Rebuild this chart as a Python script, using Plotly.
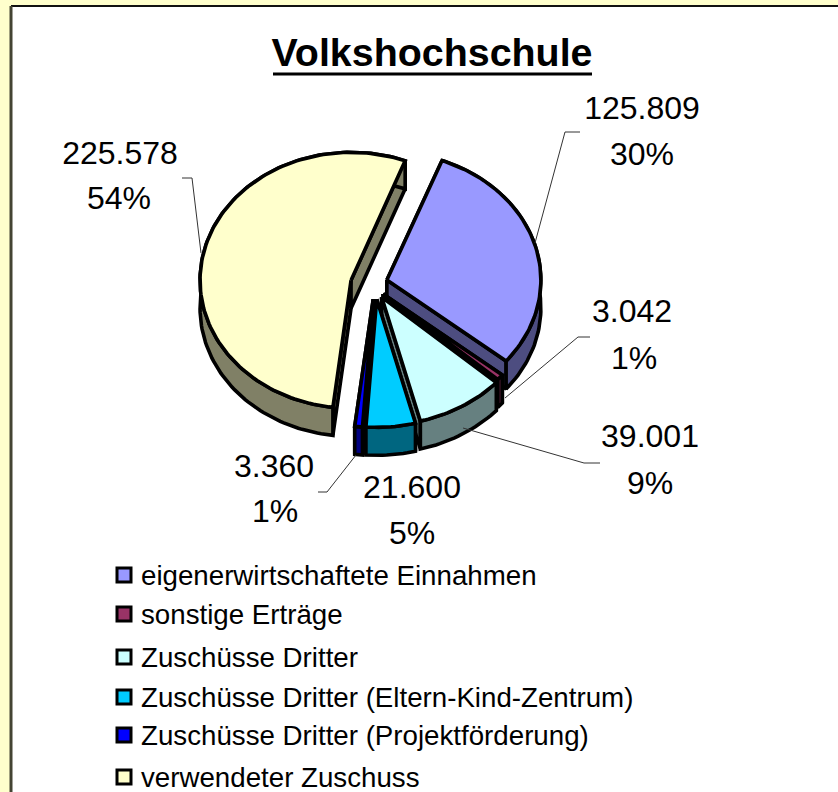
import math
import plotly.graph_objects as go

# ---- data ----
categories = ["eigenerwirtschaftete Einnahmen", "sonstige Erträge", "Zuschüsse Dritter",
              "Zuschüsse Dritter (Eltern-Kind-Zentrum)", "Zuschüsse Dritter (Projektförderung)",
              "verwendeter Zuschuss"]
values = [125809, 3042, 39001, 21600, 3360, 225578]
title_text = "Volkshochschule"

top_colors = ["#9999FF", "#993366", "#CCFFFF", "#00CCFF", "#0000FF", "#FFFFCC"]
side_colors = ["#4D4D80", "#4D1A33", "#668080", "#006680", "#000080", "#808066"]

# ---- layout constants (pixel space of the 838x792 page) ----
CX, CY = 369, 284
RX = [154, 154, 154, 154, 154, 151]
RY = 128
DEPTH = 28
EXPLODE_PX = (18.5, 15.4)
X_NUDGE = [0, 0, 3, 6, 6, 0]
START_DEG = 21
EDGE = 3.6

label_pos = [((642, 111), (642, 157)), ((632, 314), (634, 361)), ((650, 439), (650, 486)),
             ((412, 490), (412, 536)), ((274, 469), (275, 514)), ((120, 156), (119, 201))]
leaders = [[(580, 132), (565, 132), (535, 243)],
           [(590, 337), (578, 337), (505, 398)],
           [(600, 463), (584, 463), (463, 428)],
           [(318, 492), (327, 492), (356, 455)],
           [(182, 178), (192, 178), (201, 253)]]
legend_y = [575, 614, 657, 697, 735, 777]

total = sum(values)
fig = go.Figure()


def poly(xs, ys, fill, name):
    fig.add_trace(go.Scatter(x=xs, y=ys, mode="lines", fill="toself", fillcolor=fill,
                             line=dict(color="black", width=EDGE), name=name,
                             showlegend=False, hoverinfo="name"))


# angular extents computed from the values
spans = []
a = START_DEG
for v in values:
    b = a + v / total * 360
    spans.append((a, b))
    a = b

draw_order = [5, 0, 1, 2, 4, 3]
for i in draw_order:
    a, b = spans[i]
    mid = math.radians((a + b) / 2)
    ax = CX + EXPLODE_PX[0] * math.sin(mid) + X_NUDGE[i]
    ay = CY - EXPLODE_PX[1] * math.cos(mid)
    n = max(4, int((b - a) / 1.5))
    th = [math.radians(a + (b - a) * k / n) for k in range(n + 1)]
    ex = [ax + RX[i] * math.sin(t) for t in th]
    ey = [ay - RY * math.cos(t) for t in th]
    name = categories[i]
    # radial side faces, then the rim, then the top face
    poly([ax, ex[0], ex[0], ax, ax], [ay, ey[0], ey[0] + DEPTH, ay + DEPTH, ay], side_colors[i], name)
    poly([ax, ex[-1], ex[-1], ax, ax], [ay, ey[-1], ey[-1] + DEPTH, ay + DEPTH, ay], side_colors[i], name)
    poly(ex + ex[::-1] + [ex[0]], ey + [y + DEPTH for y in ey[::-1]] + [ey[0]], side_colors[i], name)
    poly([ax] + ex + [ax], [ay] + ey + [ay], top_colors[i], name)

# leader lines
for pts in leaders:
    fig.add_trace(go.Scatter(x=[p[0] for p in pts], y=[p[1] for p in pts], mode="lines",
                             line=dict(color="#333333", width=1), showlegend=False, hoverinfo="skip"))

# data labels
for v, (p1, p2) in zip(values, label_pos):
    fig.add_trace(go.Scatter(x=[p1[0], p2[0]], y=[p1[1], p2[1]], mode="text",
                             text=[f"{v:,}".replace(",", "."), f"{round(v / total * 100)}%"],
                             textposition="middle center",
                             textfont=dict(family="Liberation Sans", size=32, color="black"),
                             showlegend=False, hoverinfo="skip"))

# legend entries
for name, col, y in zip(categories, top_colors, legend_y):
    fig.add_trace(go.Scatter(x=[124], y=[y], mode="markers", hoverinfo="skip", showlegend=False,
                             marker=dict(symbol="square", size=14, color=col,
                                         line=dict(color="black", width=3))))
    fig.add_annotation(x=139, y=y, text=name, showarrow=False, xanchor="left", yanchor="middle",
                       font=dict(family="Liberation Sans", size=27.7, color="black"))

fig.update_layout(
    width=838, height=792, autosize=False,
    margin=dict(l=0, r=0, t=0, b=0),
    paper_bgcolor="#FFFFCC", plot_bgcolor="rgba(0,0,0,0)",
    xaxis=dict(range=[0, 838], visible=False, fixedrange=True),
    yaxis=dict(range=[792, 0], visible=False, fixedrange=True),
    title=dict(text=f"<b>{title_text}</b>", x=432 / 838, xanchor="center", y=1 - 52 / 792, yanchor="middle",
               font=dict(family="Liberation Sans", size=39.4, color="black")),
    shapes=[
        dict(type="rect", layer="below", x0=11, y0=6, x1=845, y1=800, fillcolor="white",
             line=dict(width=0)),
        dict(type="line", layer="below", x0=11, y0=6, x1=838, y1=6, line=dict(color="#111111", width=2)),
        dict(type="line", layer="below", x0=11, y0=6, x1=11, y1=792, line=dict(color="#444433", width=3)),
        dict(type="line", layer="above", x0=273, y0=74, x1=592, y1=74, line=dict(color="black", width=3)),
    ],
)

fig.write_html("out.html", config={"displayModeBar": False},
               post_script="document.body.style.margin='0';document.body.style.overflow='hidden';")
